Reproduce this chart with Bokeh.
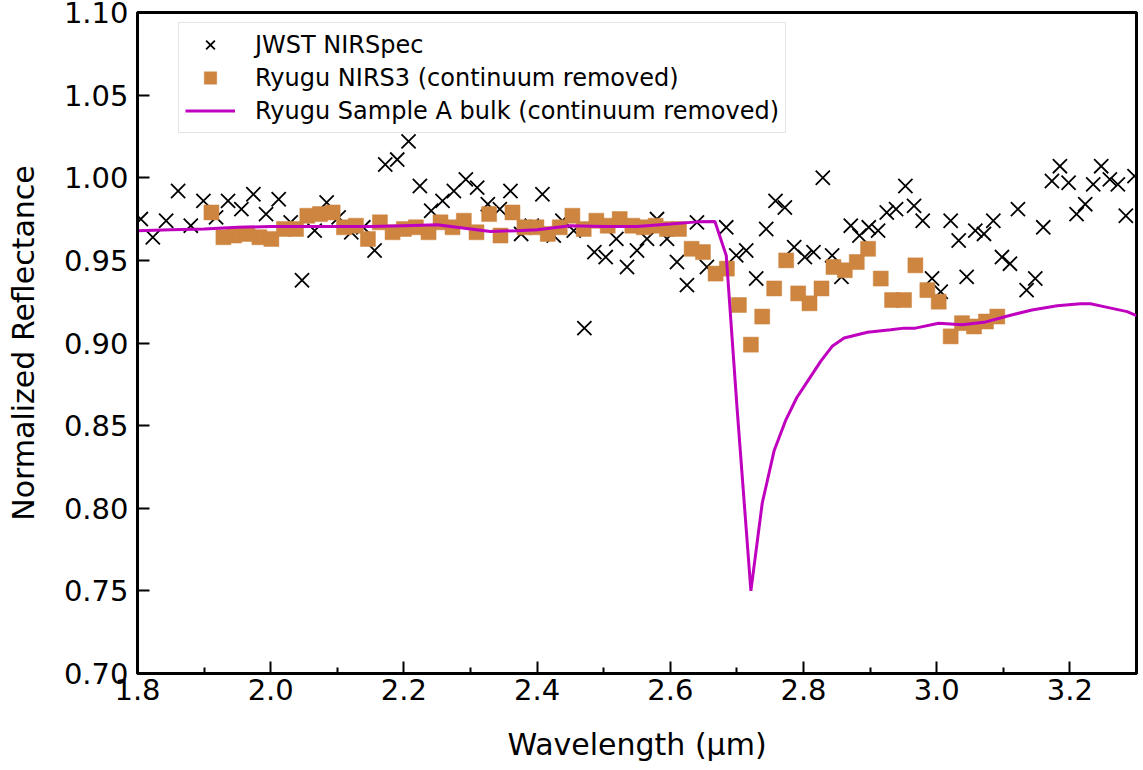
from bokeh.plotting import figure
from bokeh.models import FixedTicker, PrintfTickFormatter, Range1d
from bokeh.embed import file_html
from bokeh.resources import INLINE

# JWST NIRSpec
jwst_x = [1.805, 1.823, 1.843, 1.861, 1.880, 1.899, 1.918, 1.936, 1.956, 1.974,
          1.993, 2.012, 2.030, 2.047, 2.066, 2.084, 2.102, 2.121, 2.139, 2.156,
          2.172, 2.190, 2.207, 2.224, 2.241, 2.258, 2.275, 2.293, 2.310, 2.326,
          2.344, 2.360, 2.376, 2.392, 2.408, 2.425, 2.438, 2.455, 2.471, 2.486,
          2.503, 2.519, 2.535, 2.550, 2.565, 2.580, 2.595, 2.610, 2.625, 2.640,
          2.655, 2.684, 2.699, 2.714, 2.729, 2.744, 2.758, 2.772, 2.786, 2.802,
          2.815, 2.829, 2.843, 2.857, 2.871, 2.884, 2.898, 2.912, 2.925, 2.939,
          2.953, 2.966, 2.979, 2.993, 3.006, 3.021, 3.033, 3.045, 3.058, 3.071,
          3.085, 3.098, 3.110, 3.122, 3.135, 3.148, 3.160, 3.173, 3.185, 3.198,
          3.210, 3.223, 3.235, 3.247, 3.260, 3.272, 3.284, 3.297]
jwst_y = [0.975, 0.964, 0.974, 0.992, 0.971, 0.986, 0.976, 0.986, 0.981, 0.990,
          0.978, 0.987, 0.973, 0.938, 0.968, 0.985, 0.976, 0.967, 0.970, 0.956,
          1.008, 1.011, 1.022, 0.995, 0.980, 0.986, 0.992, 0.999, 0.994, 0.984,
          0.981, 0.992, 0.966, 0.971, 0.990, 0.965, 0.974, 0.968, 0.909, 0.955,
          0.952, 0.963, 0.946, 0.956, 0.963, 0.975, 0.963, 0.949, 0.935, 0.973,
          0.946, 0.970, 0.953, 0.956, 0.939, 0.969, 0.986, 0.982, 0.958, 0.952,
          0.955, 1.000, 0.953, 0.940, 0.971, 0.965, 0.970, 0.968, 0.979, 0.981,
          0.995, 0.983, 0.974, 0.939, 0.931, 0.974, 0.962, 0.940, 0.968, 0.966,
          0.974, 0.952, 0.948, 0.981, 0.932, 0.939, 0.970, 0.998, 1.007, 0.997,
          0.978, 0.984, 0.996, 1.007, 0.999, 0.996, 0.977, 1.001]

# Ryugu NIRS3 (continuum removed)
nirs3_x = [1.911, 1.929, 1.945, 1.965, 1.983, 2.001, 2.020, 2.038, 2.055, 2.074,
           2.093, 2.110, 2.128, 2.146, 2.164, 2.183, 2.200, 2.218, 2.237, 2.255,
           2.273, 2.290, 2.309, 2.328, 2.345, 2.363, 2.381, 2.399, 2.416, 2.434,
           2.453, 2.470, 2.489, 2.506, 2.524, 2.543, 2.560, 2.578, 2.595, 2.613,
           2.632, 2.649, 2.668, 2.685, 2.703, 2.721, 2.738, 2.756, 2.774, 2.792,
           2.809, 2.827, 2.845, 2.862, 2.880, 2.897, 2.916, 2.933, 2.951, 2.968,
           2.986, 3.003, 3.021, 3.038, 3.056, 3.074, 3.091]
nirs3_y = [0.979, 0.964, 0.965, 0.966, 0.964, 0.963, 0.969, 0.969, 0.977, 0.978,
           0.979, 0.970, 0.971, 0.963, 0.973, 0.967, 0.969, 0.970, 0.967, 0.973,
           0.970, 0.974, 0.967, 0.978, 0.965, 0.979, 0.970, 0.970, 0.966, 0.970,
           0.977, 0.969, 0.974, 0.971, 0.975, 0.971, 0.970, 0.971, 0.969, 0.969,
           0.957, 0.955, 0.942, 0.945, 0.923, 0.899, 0.916, 0.933, 0.950, 0.930,
           0.924, 0.933, 0.946, 0.944, 0.949, 0.957, 0.939, 0.926, 0.926, 0.947,
           0.932, 0.925, 0.904, 0.912, 0.910, 0.913, 0.916]

# Ryugu Sample A bulk (continuum removed)
samp_x = [1.800, 1.850, 1.900, 1.950, 2.000, 2.050, 2.100, 2.150, 2.200, 2.250,
          2.300, 2.330, 2.370, 2.400, 2.450, 2.500, 2.550, 2.600, 2.640, 2.667,
          2.684, 2.700, 2.721, 2.738, 2.756, 2.773, 2.790, 2.808, 2.826, 2.843,
          2.861, 2.896, 2.931, 2.951, 2.968, 3.003, 3.038, 3.071, 3.108, 3.143,
          3.181, 3.216, 3.231, 3.251, 3.286, 3.300]
samp_y = [0.968, 0.9685, 0.969, 0.970, 0.9705, 0.9705, 0.9705, 0.9705, 0.971, 0.9715,
          0.969, 0.9675, 0.968, 0.9685, 0.971, 0.9705, 0.9705, 0.972, 0.9733, 0.9735,
          0.953, 0.862, 0.750, 0.803, 0.835, 0.853, 0.867, 0.878, 0.889, 0.898,
          0.903, 0.9065, 0.908, 0.909, 0.909, 0.912, 0.911, 0.9125, 0.9165, 0.920,
          0.9225, 0.9237, 0.9237, 0.922, 0.919, 0.9165]

x_ticks = [1.8, 2.0, 2.2, 2.4, 2.6, 2.8, 3.0, 3.2]
x_minor = [1.9, 2.1, 2.3, 2.5, 2.7, 2.9, 3.1, 3.3]
y_ticks = [0.70, 0.75, 0.80, 0.85, 0.90, 0.95, 1.00, 1.05, 1.10]

FONT = "DejaVu Sans"

p = figure(frame_width=999, frame_height=661, output_backend="svg",
           toolbar_location=None,
           x_range=Range1d(1.8, 3.3), y_range=Range1d(0.70, 1.10),
           min_border_left=137, min_border_right=7,
           min_border_top=12, min_border_bottom=97)
p.grid.visible = False
p.background_fill_color = "white"
p.border_fill_color = "white"
p.outline_line_color = "black"
p.outline_line_width = 3

p.scatter(jwst_x, jwst_y, marker="x", size=20, line_color="black",
          line_width=1.8, legend_label="JWST NIRSpec")
p.scatter(nirs3_x, nirs3_y, marker="square", size=15, fill_color="#cd853f",
          line_color="#cd853f", line_alpha=0.5, line_width=1,
          legend_label="Ryugu NIRS3 (continuum removed)")
p.line(samp_x, samp_y, line_color="#bf00bf", line_width=3,
       legend_label="Ryugu Sample A bulk (continuum removed)")

p.xaxis.ticker = FixedTicker(ticks=x_ticks, minor_ticks=x_minor)
p.yaxis.ticker = FixedTicker(ticks=y_ticks)
p.xaxis.formatter = PrintfTickFormatter(format="%.1f")
p.yaxis.formatter = PrintfTickFormatter(format="%.2f")

for ax in (p.xaxis, p.yaxis):
    ax.axis_line_width = 3
    ax.axis_line_color = "black"
    ax.major_tick_in = 12
    ax.major_tick_out = 0
    ax.major_tick_line_width = 2
    ax.major_tick_line_color = "black"
    ax.major_label_text_font = FONT
    ax.major_label_text_font_size = "29px"
    ax.major_label_text_color = "black"
    ax.axis_label_text_font = FONT
    ax.axis_label_text_font_size = "30px"
    ax.axis_label_text_font_style = "normal"
    ax.axis_label_text_color = "black"

p.xaxis.minor_tick_in = 6
p.xaxis.minor_tick_out = 0
p.xaxis.minor_tick_line_width = 2
p.xaxis.minor_tick_line_color = "black"
p.yaxis.minor_tick_line_color = None

p.xaxis.major_label_standoff = 5
p.yaxis.major_label_standoff = 9
p.xaxis.axis_label = "Wavelength (μm)"
p.yaxis.axis_label = "Normalized Reflectance"
p.xaxis.axis_label_standoff = 24
p.yaxis.axis_label_standoff = 20

lg = p.legend[0]
lg.location = (41, 540)
lg.label_text_font = FONT
lg.label_text_font_size = "24px"
lg.label_text_color = "black"
lg.glyph_width = 50
lg.glyph_height = 31
lg.label_height = 31
lg.label_standoff = 20
lg.spacing = 2
lg.padding = 6
lg.margin = 0
lg.border_line_color = "#cccccc"
lg.border_line_width = 1.5
lg.background_fill_alpha = 0.8

open("out.html", "w").write(file_html(p, INLINE))
